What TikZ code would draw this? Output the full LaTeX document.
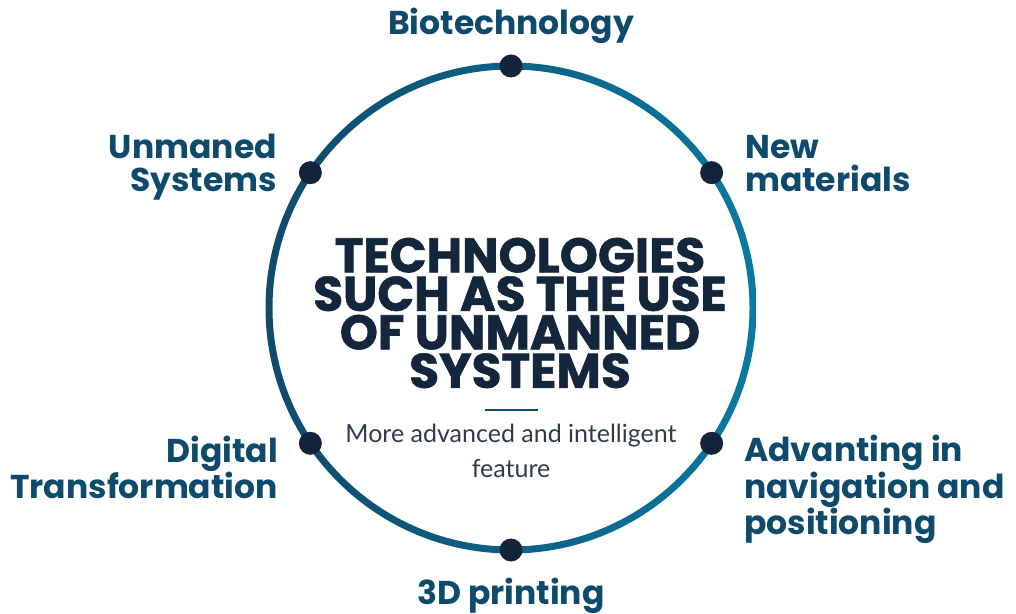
\documentclass[tikz,border=0pt]{standalone}
\usepackage{fontspec}
\usepackage{xcolor}
\usepackage{tikz}
\newfontfamily\headfont{Poppins}[BoldFeatures={FakeBold=1.2}]
\newfontfamily\labelfont{Poppins}
\newfontfamily\thinfont{Lato}
\definecolor{labelblue}{HTML}{0E4A6B}
\definecolor{titlenavy}{HTML}{13263B}
\definecolor{dotnavy}{HTML}{11243A}
\definecolor{ringleft}{HTML}{104A6C}
\definecolor{ringright}{HTML}{0A79A1}
\definecolor{subgrey}{HTML}{2E3D4D}

\begin{document}
\begin{tikzpicture}[x=1pt, y=1pt,
		dot/.style={circle, fill=dotnavy, inner sep=0pt, minimum size=23pt},
		topic/.style={inner sep=0pt, text=labelblue, text depth=0pt, font=\labelfont\bfseries\fontsize{33}{33}\selectfont},
		heading/.style={inner sep=0pt, text=titlenavy, text depth=0pt, align=center, font=\headfont\bfseries\fontsize{48.5}{38.5}\selectfont},
		subline/.style={inner sep=0pt, text=subgrey, text depth=0pt, align=center, font=\thinfont\fontsize{25}{35}\selectfont}]
	\useasboundingbox (0,0) rectangle (1016,613);
	\coordinate (c) at (511,305);
	% ring, darker on the left
	\shade[even odd rule, left color=ringleft, right color=ringright] (c) circle (245.5) (c) circle (238.5);
	\foreach \a/\n in {90/bio, 34/newmat, -34/nav, -90/print, 214/digital, 146/unman}
		\node[dot] (d-\n) at ([shift={(\a:242)}]c) {};
	\node[heading, anchor=south] (title) at (520,225) {TECHNOLOGIES\\SUCH AS THE USE\\OF UNMANNED\\SYSTEMS};
	\draw[ringleft, line width=1.6pt] (485,203) -- (538,203);
	\node[subline, anchor=south] (sub) at (511,135) {More advanced and intelligent\\feature};
	\node[topic, anchor=base] (bio) at (511,578) {Biotechnology};
	\node[topic, anchor=south east, align=right] (unman) at (277,421) {Unmaned\\Systems};
	\node[topic, anchor=south west, align=left] (newmat) at (745,421) {New\\materials};
	\node[topic, anchor=south east, align=right] (digital) at (278,114) {Digital\\Transformation};
	\node[topic, anchor=south west, align=left] (nav) at (744,78) {Advanting in\\navigation and\\positioning};
	\node[topic, anchor=base] (print) at (511,9) {3D printing};
\end{tikzpicture}
\end{document}
